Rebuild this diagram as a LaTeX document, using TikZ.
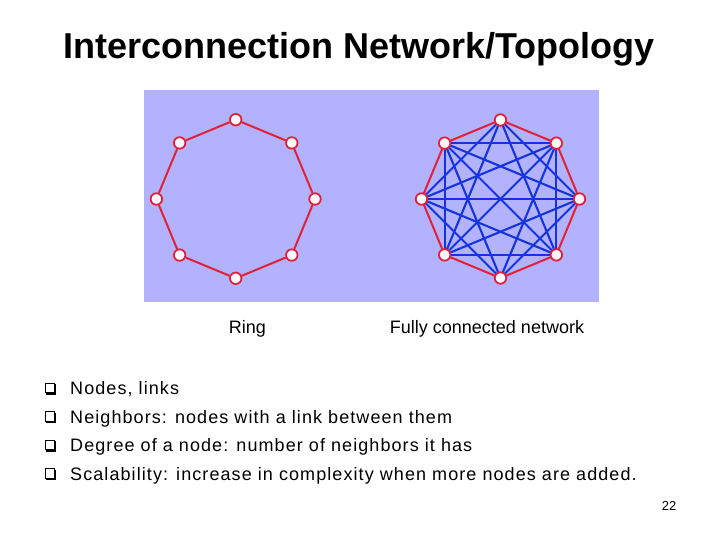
\documentclass[tikz,border=0pt]{standalone}
\usepackage{fontspec}
\setmainfont{Liberation Sans}
\newfontfamily\bulletfont[LetterSpace=6]{Liberation Sans}
\definecolor{bgblue}{RGB}{178,178,255}
\definecolor{ringred}{RGB}{226,32,58}
\definecolor{chordblue}{RGB}{22,52,222}
\tikzset{
  vtx/.style={circle,draw=ringred,fill=white,line width=1.8pt,inner sep=0pt,minimum size=11.5pt},
  redlink/.style={draw=ringred,line width=2pt},
  bluelink/.style={draw=chordblue,line width=2.1pt},
  lbl/.style={anchor=base,inner sep=0pt,font=\fontsize{18}{21}\selectfont},
  bullettext/.style={anchor=base west,inner sep=0pt,font=\bulletfont\fontsize{18}{21}\selectfont},
  bulletbox/.style={draw=black,line width=0.9pt,fill=white}
}
\begin{document}
\begin{tikzpicture}[x=1pt,y=-1pt]
\useasboundingbox[fill=white] (0,0) rectangle (720,540);
% title
\node[anchor=base,inner sep=0pt,font=\fontsize{36}{40}\selectfont\bfseries] (title) at (359,59) {Interconnection Network/Topology};
% panel
\fill[bgblue] (144,90) rectangle (599,302);
% ring
\begin{scope}[shift={(235.7,199)}]
  \foreach \i in {0,...,7} \node[vtx] (r\i) at (\i*45:79.3) {};
\end{scope}
\foreach \i [evaluate=\i as \j using {int(mod(\i+1,8))}] in {0,...,7}
  \draw[redlink] (r\i) -- (r\j);
% fully connected
\begin{scope}[shift={(500.5,199)}]
  \foreach \i in {0,...,7} \coordinate (fc\i) at (\i*45:79);
\end{scope}
\foreach \i in {0,...,7}
  \foreach \k in {2,...,4}{
    \pgfmathtruncatemacro{\j}{mod(\i+\k,8)}
    \ifnum\k<4 \draw[bluelink] (fc\i) -- (fc\j);\else
      \ifnum\i<4 \ifnum\i=2\else \draw[bluelink] (fc\i) -- (fc\j);\fi\fi\fi
  }
\foreach \i [evaluate=\i as \j using {int(mod(\i+1,8))}] in {0,...,7}
  \draw[redlink] (fc\i) -- (fc\j);
\foreach \i in {0,...,7} \node[vtx] (f\i) at (fc\i) {};
% labels
\node[lbl] (ringlbl) at (247.5,333.5) {Ring};
\node[lbl] (fulllbl) at (487,333.5) {Fully connected network};
% bullets
\foreach \y/\t [count=\n] in {394.5/{Nodes, links},
  423/{Neighbors: nodes with a link between them},
  451.5/{Degree of a node: number of neighbors it has},
  480/{Scalability: increase in complexity when more nodes are added.}}{
  \draw[black,line width=1.6pt] (47,\y-9.5) -- (55.5,\y-9.5) -- (55.5,\y-0.5) -- (46,\y-0.5);
  \draw[bulletbox] (45,\y-11.5) rectangle (54,\y-2);
  \node[bullettext] (b\n) at (70,\y) {\t};
}
% page number
\node[anchor=base,inner sep=0pt,font=\fontsize{13}{15}\selectfont] (pagenum) at (669,510) {22};
\end{tikzpicture}
\end{document}
